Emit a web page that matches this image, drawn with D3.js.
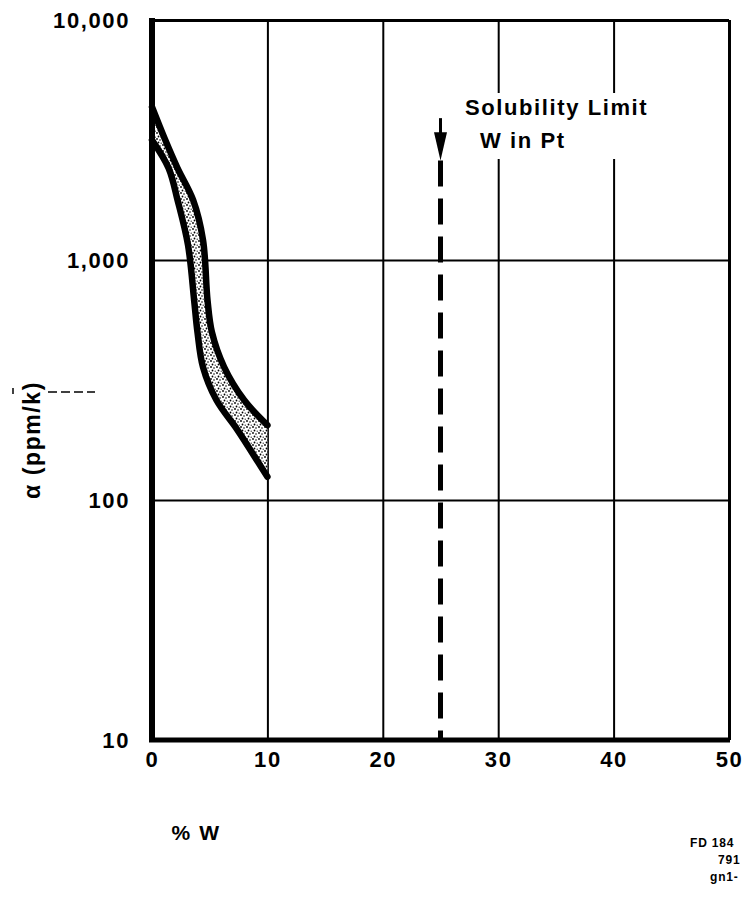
<!DOCTYPE html>
<html>
<head>
<meta charset="utf-8">
<script src="https://d3js.org/d3.v7.min.js"></script>
<style>
  body { margin: 0; background: #fff; }
  svg { display: block; }
  text { font-family: "Liberation Sans", Arial, Helvetica, sans-serif; font-weight: bold; fill: #000; }
</style>
</head>
<body>
<div id="chart"></div>
<script>
// x: % W in Pt, y: alpha (ppm/K) on a log axis
const xTicks = [0, 10, 20, 30, 40, 50];
const yTicks = [10, 100, 1000, 10000];
const yTickLabels = ["10", "100", "1,000", "10,000"];

// the shaded band: upper (right) edge and lower (left) edge
const upperW = [0, 1.15, 2.21, 3.56, 4.42, 4.81, 5.19, 6.25, 7.98, 10];
const upperAlpha = [4340, 3160, 2415, 1780, 1212, 681, 501, 358, 261, 205];
const lowerW = [0, 1.44, 2.21, 3.12, 3.65, 3.94, 4.42, 5.58, 7.4, 9.23, 10];
const lowerAlpha = [3160, 2415, 1780, 1155, 681, 501, 358, 261, 196, 143, 125];

// solubility limit marker
const limitW = 25;
const limitArrow = [3900, 2600]; // stem top, arrow tip
const limitLabel = ["Solubility Limit", "W in Pt"];
const footnote = ["FD 184", "791", "gn1-"];

const width = 744, height = 900;

const svg = d3.select("#chart").append("svg")
    .attr("width", width)
    .attr("height", height);

const x = d3.scaleLinear().domain([0, 50]).range([152, 729]);
const y = d3.scaleLog().domain([10, 10000]).range([740, 20]);

// stipple texture for the band
const defs = svg.append("defs");
const pat = defs.append("pattern")
    .attr("id", "stipple")
    .attr("patternUnits", "userSpaceOnUse")
    .attr("width", 6).attr("height", 6);
pat.append("rect").attr("width", 6).attr("height", 6).attr("fill", "#fff");
[[1, 1, 0.9], [4, 2, 0.8], [2.5, 4.5, 0.9], [5.2, 5.2, 0.6]].forEach(d => {
    pat.append("circle").attr("cx", d[0]).attr("cy", d[1]).attr("r", d[2]).attr("fill", "#000");
});

// --- grid + tick labels via axes ---
svg.append("g")
    .attr("class", "x-axis")
    .attr("transform", `translate(0,${y(10)})`)
    .call(d3.axisBottom(x)
        .tickValues(xTicks)
        .tickFormat(d3.format("d"))
        .tickSize(-(y(10) - y(10000)))
        .tickPadding(11));

svg.append("g")
    .attr("class", "y-axis")
    .attr("transform", `translate(${x(0)},0)`)
    .call(d3.axisLeft(y)
        .tickValues(yTicks)
        .tickFormat((d, i) => yTickLabels[i])
        .tickSize(-(x(50) - x(0)))
        .tickPadding(22));

svg.selectAll(".x-axis .domain, .y-axis .domain").remove();
svg.selectAll(".x-axis .tick line, .y-axis .tick line")
    .attr("stroke", "#000")
    .attr("stroke-width", 2);
svg.selectAll(".x-axis .tick text, .y-axis .tick text")
    .attr("font-size", 22)
    .attr("font-family", null)
    .attr("letter-spacing", 1.6)
    .attr("fill", "#000");

// heavier frame: top + right medium
svg.select(".x-axis").selectAll(".tick")
    .filter(d => d === 50)
    .select("line").attr("stroke-width", 3);
svg.select(".y-axis").selectAll(".tick")
    .filter(d => d === 10000)
    .select("line").attr("stroke-width", 3);

// white box behind the annotation (grid lines break there)
svg.append("rect")
    .attr("x", 458).attr("y", 93)
    .attr("width", 198).attr("height", 66)
    .attr("fill", "#fff");

// --- the band ---
const upper = upperW.map((w, i) => [w, upperAlpha[i]]);
const lower = lowerW.map((w, i) => [w, lowerAlpha[i]]);

const line = d3.line()
    .x(d => x(d[0]))
    .y(d => y(d[1]))
    .curve(d3.curveCatmullRom.alpha(0.5));

const bandPath = line(upper) + "L" + line(lower.slice().reverse()).slice(1) + "Z";
svg.append("path")
    .attr("d", bandPath)
    .attr("fill", "url(#stipple)")
    .attr("stroke", "none");

[upper, lower].forEach(edge => {
    svg.append("path")
        .attr("d", line(edge))
        .attr("fill", "none")
        .attr("stroke", "#000")
        .attr("stroke-width", 6.5)
        .attr("stroke-linecap", "round");
});

// --- axis lines on top: left + bottom thick ---
svg.append("line")
    .attr("x1", x(0)).attr("x2", x(0))
    .attr("y1", y(10000) - 2).attr("y2", y(10) + 2)
    .attr("stroke", "#000").attr("stroke-width", 6);
svg.append("line")
    .attr("x1", x(0) - 3).attr("x2", x(50) + 1)
    .attr("y1", y(10)).attr("y2", y(10))
    .attr("stroke", "#000").attr("stroke-width", 5);

// --- solubility limit: arrow + dashed line ---
const lx = x(limitW);
const stemTop = y(limitArrow[0]);
const tip = y(limitArrow[1]);
svg.append("line")
    .attr("x1", lx).attr("x2", lx)
    .attr("y1", stemTop).attr("y2", stemTop + 16)
    .attr("stroke", "#000").attr("stroke-width", 3);
svg.append("path")
    .attr("d", `M${lx - 6.5},${stemTop + 14}L${lx + 6.5},${stemTop + 14}L${lx},${tip}Z`)
    .attr("fill", "#000");
svg.append("line")
    .attr("x1", lx).attr("x2", lx)
    .attr("y1", tip).attr("y2", y(10))
    .attr("stroke", "#000")
    .attr("stroke-width", 5)
    .attr("stroke-dasharray", "26,12");

svg.append("text")
    .attr("x", 465).attr("y", 115)
    .attr("font-size", 22)
    .attr("letter-spacing", 1.6)
    .text(limitLabel[0]);
svg.append("text")
    .attr("x", 480).attr("y", 148)
    .attr("font-size", 22)
    .attr("letter-spacing", 1.6)
    .text(limitLabel[1]);

// --- axis titles ---
svg.append("text")
    .attr("transform", "translate(40,440) rotate(-90)")
    .attr("text-anchor", "middle")
    .attr("font-size", 23)
    .attr("letter-spacing", 1.6)
    .text("\u03b1 (ppm/k)");

svg.append("text")
    .attr("x", 196).attr("y", 840)
    .attr("text-anchor", "middle")
    .attr("font-size", 21)
    .attr("letter-spacing", 1.6)
    .text("% W");

// stray marks from the original scan near the y title
svg.append("line")
    .attr("x1", 48).attr("x2", 95)
    .attr("y1", 392).attr("y2", 392)
    .attr("stroke", "#000").attr("stroke-width", 1.5)
    .attr("stroke-dasharray", "9,4");
svg.append("line")
    .attr("x1", 13).attr("x2", 13)
    .attr("y1", 388).attr("y2", 394)
    .attr("stroke", "#000").attr("stroke-width", 1.5);

// drawing number, cut at the right edge in the original
svg.selectAll(".foot")
    .data(footnote)
    .enter().append("text")
    .attr("class", "foot")
    .attr("x", (d, i) => [690, 718, 710][i])
    .attr("y", (d, i) => 847 + i * 17)
    .attr("font-size", 12)
    .attr("letter-spacing", 0.8)
    .text(d => d);
</script>
</body>
</html>
